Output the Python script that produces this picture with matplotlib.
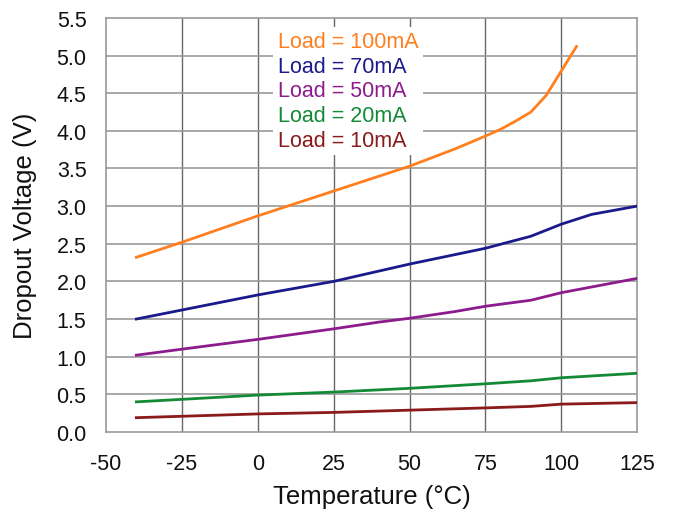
import matplotlib
matplotlib.use("Agg")
import matplotlib.pyplot as plt

plt.rcParams['font.family'] = ['Liberation Sans', 'DejaVu Sans']
plt.rcParams['axes.unicode_minus'] = False

temp_100 = [-40, -25, 0, 25, 50, 65, 75, 80, 85, 90, 95, 105]
load_100 = [2.32, 2.52, 2.87, 3.20, 3.53, 3.76, 3.93, 4.02, 4.13, 4.25, 4.47, 5.12]

temp_70 = [-40, -25, 0, 25, 50, 75, 90, 100, 110, 125]
load_70 = [1.50, 1.62, 1.82, 2.00, 2.23, 2.44, 2.60, 2.76, 2.89, 3.00]

temp_50 = [-40, -25, 0, 25, 40, 50, 65, 75, 90, 100, 125]
load_50 = [1.02, 1.10, 1.23, 1.37, 1.46, 1.51, 1.60, 1.67, 1.75, 1.85, 2.04]

temp_20 = [-40, 0, 25, 50, 75, 90, 100, 125]
load_20 = [0.40, 0.49, 0.53, 0.58, 0.64, 0.68, 0.72, 0.78]

temp_10 = [-40, 0, 25, 50, 75, 90, 100, 125]
load_10 = [0.19, 0.24, 0.26, 0.29, 0.32, 0.34, 0.37, 0.39]

series = [
    ("Load = 100mA", temp_100, load_100, "#ff7f1e"),
    ("Load = 70mA", temp_70, load_70, "#1a1a8c"),
    ("Load = 50mA", temp_50, load_50, "#8e1b8e"),
    ("Load = 20mA", temp_20, load_20, "#138a36"),
    ("Load = 10mA", temp_10, load_10, "#8b1a1a"),
]

x_ticks = [-50, -25, 0, 25, 50, 75, 100, 125]
y_ticks = [0.0, 0.5, 1.0, 1.5, 2.0, 2.5, 3.0, 3.5, 4.0, 4.5, 5.0, 5.5]

fig = plt.figure(figsize=(6.75, 5.1), dpi=100)
ax = fig.add_axes([0.157, 0.151, 0.787, 0.812])

for label, xs, ys, c in series:
    ax.plot(xs, ys, color=c, lw=2.0, label=label, zorder=3)

ax.set_xlim(-50, 125)
ax.set_ylim(0, 5.5)
ax.set_xticks(x_ticks)
ax.set_yticks(y_ticks)
ax.set_yticklabels([f"{v:.1f}" for v in y_ticks])
ax.tick_params(length=0, labelsize=15.5, colors="#111111")
ax.tick_params(axis='y', pad=14)
ax.tick_params(axis='x', pad=15)
for v in x_ticks[1:-1]:
    ax.axvline(v, color="#666666", lw=1.0, zorder=1)
for v in y_ticks[1:-1]:
    ax.axhline(v, color="#999999", lw=1.2, zorder=1)
for s in ax.spines.values():
    s.set_color("#999999")
    s.set_linewidth(1.2)

ax.set_xlabel("Temperature (°C)", fontsize=18.5, labelpad=7, color="#111111")
ax.set_ylabel("Dropout Voltage (V)", fontsize=18.5, labelpad=14, color="#111111")

leg = ax.legend(loc="upper left", bbox_to_anchor=(0.295, 1.005), handlelength=0,
                handletextpad=0, fontsize=15.5, frameon=True, framealpha=1,
                edgecolor="none", borderpad=0.2, labelspacing=0.17,
                fancybox=False)
for t, (_, _, _, c) in zip(leg.get_texts(), series):
    t.set_color(c)
for h in leg.legend_handles:
    h.set_visible(False)
leg.set_zorder(5)

fig.text(0.55, 1.023, "Dropout Voltage vs Temperature", fontsize=18,
         ha="center", va="center", fontweight="bold")

fig.savefig("out.png", dpi=100)
